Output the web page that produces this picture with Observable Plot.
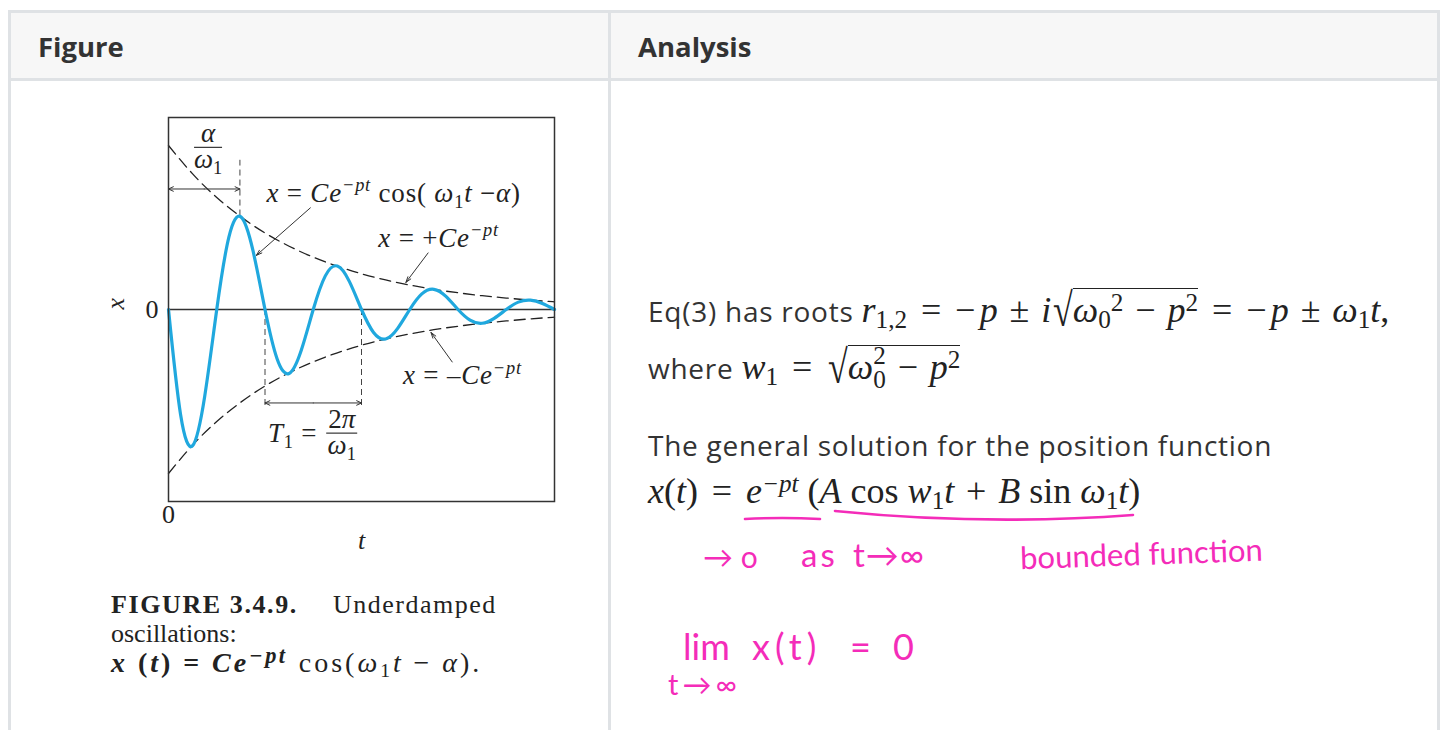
<!DOCTYPE html>
<html>
<head>
<meta charset="utf-8">
<script src="https://cdn.jsdelivr.net/npm/d3@7"></script>
<script src="https://cdn.jsdelivr.net/npm/@observablehq/plot@0.6"></script>
<style>
  html, body { margin: 0; padding: 0; background: #fff; }
  body { width: 1442px; height: 730px; position: relative; overflow: hidden; font-family: "Open Sans", sans-serif; color: #333; }
  .abs { position: absolute; }
  .bd { position: absolute; background: #dfe2e5; }
  .th { font-weight: 700; font-size: 27.5px; line-height: 1; white-space: nowrap; }
  .txt { font-size: 28px; letter-spacing: 0.75px; line-height: 1; white-space: nowrap; }
  .m { font-family: "Liberation Serif", serif; font-size: 36px; color: #222; line-height: 0; letter-spacing: 0; }
  .m i { font-style: italic; }
  .m sub, .m sup, .cap sub, .cap sup { font-size: 0.7em; line-height: 0; position: relative; vertical-align: baseline; }
  .m sub, .cap sub { top: 0.25em; }
  .m sup, .cap sup { top: -0.42em; }
  .rel { margin: 0 0.385em; }
  .bin { margin: 0 0.33em; }
  .neg { margin-right: 0.12em; }
  .stack { display: inline-flex; flex-direction: column; vertical-align: baseline; line-height: 0.95; font-size: 0.7em; position: relative; top: -0.6em; }
  .rad { display: inline-block; transform: scaleY(1.3); transform-origin: 50% 65%; margin-left: 0.05em; }
  .ov { border-top: 1.6px solid #222; padding-top: 1px; }
  .ink { position: absolute; font-family: Lato, sans-serif; font-weight: 400; color: #f42cb9; white-space: nowrap; line-height: 1; }
  .cap { position: absolute; font-family: "Liberation Serif", serif; font-size: 26px; line-height: 29px; color: #222; white-space: nowrap; }
  #chart { position: absolute; left: 100px; top: 100px; }
</style>
</head>
<body>

<!-- table frame -->
<div class="abs" style="left:11px;top:13px;width:1426px;height:65px;background:#f7f7f7"></div>
<div class="bd" style="left:8px;top:10px;width:1432px;height:3px"></div>
<div class="bd" style="left:8px;top:78px;width:1432px;height:3px"></div>
<div class="bd" style="left:8px;top:10px;width:3px;height:720px"></div>
<div class="bd" style="left:608px;top:10px;width:3px;height:720px"></div>
<div class="bd" style="left:1437px;top:10px;width:3px;height:720px"></div>
<div class="abs th" style="left:38px;top:33px">Figure</div>
<div class="abs th" style="left:638px;top:33px">Analysis</div>

<div id="chart"></div>

<div class="cap" style="left:111px;top:590px"><b style="letter-spacing:1.6px">FIGURE 3.4.9.</b></div>
<div class="cap" style="left:333px;top:590px;letter-spacing:1.5px">Underdamped</div>
<div class="cap" style="left:111px;top:619px">oscillations:</div>
<div class="cap" style="left:111px;top:648px;font-size:28px;letter-spacing:3px"><b><i>x</i> (<i>t</i>)<span style="margin:0 0.35em">=</span><i>Ce</i><sup style="font-size:0.8em;letter-spacing:2.5px"><i>−pt</i></sup></b><span style="margin-left:0.4em">cos(<i>ω</i><sub>1</sub><i>t</i><span style="margin:0 0.35em">−</span><i>α</i>).</span></div>

<!-- analysis column -->
<div class="abs txt" style="left:648px;top:297px">Eq(3) has roots <span class="m"><i>r</i><sub>1,2</sub><span class="rel">=</span><span class="neg">−</span><i>p</i><span class="bin">±</span><i>i</i><span class="rad">√</span><span class="ov"><i>ω</i><sub>0</sub><sup>2</sup><span class="bin">−</span><i>p</i><sup>2</sup></span><span class="rel">=</span><span class="neg">−</span><i>p</i><span class="bin">±</span><i>ω</i><sub>1</sub><i>t</i>,</span></div>
<div class="abs txt" style="left:648px;top:354px">where <span class="m"><i>w</i><sub>1</sub><span class="rel">=</span><span class="rad">√</span><span class="ov"><i>ω</i><span class="stack"><span>2</span><span>0</span></span><span class="bin">−</span><i>p</i><sup>2</sup></span></span></div>
<div class="abs txt" style="left:648px;top:431px">The general solution for the position function</div>
<div class="abs txt" style="left:648px;top:478px"><span class="m"><i>x</i>(<i>t</i>)<span class="rel">=</span><i>e</i><sup><i>−pt</i></sup> (<i>A</i> cos <i>w</i><sub>1</sub><i>t</i><span class="bin">+</span><i>B</i> sin <i>ω</i><sub>1</sub><i>t</i>)</span></div>

<svg class="abs" style="left:0;top:0" width="1442" height="730">
  <path d="M745,519 Q782,517 820,519" fill="none" stroke="#f42cb9" stroke-width="2.6" stroke-linecap="round"/>
  <path d="M835,511 Q985,526 1133,515" fill="none" stroke="#f42cb9" stroke-width="2.6" stroke-linecap="round"/>
</svg>
<div class="ink" style="left:703px;top:541px;font-size:30px">→ o</div>
<div class="ink" style="left:801px;top:538px;font-size:33px;letter-spacing:3px">as</div>
<div class="ink" style="left:853px;top:538px;font-size:33px;letter-spacing:1px">t→∞</div>
<div class="ink" style="left:1020px;top:538px;font-size:31px;transform:rotate(-2deg)">bounded function</div>
<div class="ink" style="left:683px;top:628px;font-size:36px">lim</div>
<div class="ink" style="left:752px;top:628px;font-size:36px;letter-spacing:5px">x(t)</div>
<div class="ink" style="left:850px;top:628px;font-size:36px">=</div>
<div class="ink" style="left:893px;top:628px;font-size:36px">0</div>
<div class="ink" style="left:668px;top:669px;font-size:29px;letter-spacing:4px">t→∞</div>

<script>
// Sampled displacement of the underdamped oscillator (t in units of T1, x in units of C)
const tSamples = [0, 0.125, 0.25, 0.375, 0.5, 0.625, 0.75, 0.875, 1, 1.125, 1.25, 1.375, 1.5, 1.625, 1.75, 1.875,
                  2, 2.125, 2.25, 2.375, 2.5, 2.625, 2.75, 2.875, 3, 3.125, 3.25, 3.375, 3.5, 3.625, 3.75, 3.875, 4];
const xSamples = [0, -0.64, -0.83, -0.53, 0, 0.44, 0.565, 0.36, 0, -0.30, -0.39, -0.25, 0, 0.205, 0.265, 0.17,
                  0, -0.14, -0.18, -0.115, 0, 0.095, 0.123, 0.08, 0, -0.065, -0.084, -0.054, 0, 0.045, 0.057, 0.037, 0];

// Envelope ±Ce^(-pt)
const tEnvelope = [0, 0.25, 0.5, 0.75, 1, 1.25, 1.5, 1.75, 2, 2.25, 2.5, 2.75, 3, 3.25, 3.5, 3.75, 4];
const envelopeAmp = [1, 0.827, 0.683, 0.565, 0.467, 0.386, 0.319, 0.264, 0.218, 0.180, 0.149, 0.123, 0.102, 0.084, 0.070, 0.057, 0.047];

// Guide lines: phase shift α/ω1 and one period T1
const phaseShift = 0.74;
const periodStart = 1;
const periodEnd = 2;

const oscillation = tSamples.map((t, i) => ({t, x: xSamples[i]}));
const envelope = tEnvelope.map((t, i) => ({t, a: envelopeAmp[i]}));

const guides = [
  {t: phaseShift, y1: 0.57, y2: 0.91},
  {t: periodStart, y1: 0, y2: -0.60},
  {t: periodEnd, y1: 0, y2: -0.60}
];
const spans = [
  {y: 0.735, t1: 0, t2: phaseShift},
  {y: -0.57, t1: periodStart, t2: periodEnd}
];
const pointers = [
  {x1: 1.47, y1: 0.62, x2: 0.91, y2: 0.33},
  {x1: 2.69, y1: 0.345, x2: 2.46, y2: 0.165},
  {x1: 2.94, y1: -0.32, x2: 2.72, y2: -0.14}
];

const dash = {stroke: "#222", strokeWidth: 1.3, strokeDasharray: "11,6"};
const thin = {stroke: "#333", strokeWidth: 1};

const plot = Plot.plot({
  width: 480,
  height: 470,
  marginLeft: 68,
  marginRight: 26,
  marginTop: 17,
  marginBottom: 69,
  x: {domain: [0, 4], axis: null},
  y: {domain: [-1.171, 1.171], axis: null},
  style: {background: "transparent", fontFamily: "'Liberation Serif', serif", fontSize: "26px", color: "#222", overflow: "visible"},
  marks: [
    Plot.ruleY([0], {stroke: "#333", strokeWidth: 1.4}),
    Plot.line(envelope, {x: "t", y: "a", curve: "natural", ...dash}),
    Plot.line(envelope, {x: "t", y: d => -d.a, curve: "natural", ...dash}),
    Plot.ruleX(guides, {x: "t", y1: "y1", y2: "y2", stroke: "#444", strokeWidth: 1, strokeDasharray: "6,4"}),
    Plot.arrow(spans, {x1: d => (d.t1 + d.t2) / 2, x2: "t1", y1: "y", y2: "y", headLength: 8, headAngle: 50, ...thin}),
    Plot.arrow(spans, {x1: d => (d.t1 + d.t2) / 2, x2: "t2", y1: "y", y2: "y", headLength: 8, headAngle: 50, ...thin}),
    Plot.arrow(pointers, {x1: "x1", y1: "y1", x2: "x2", y2: "y2", headLength: 9, headAngle: 35, ...thin}),
    Plot.line(oscillation, {x: "t", y: "x", curve: "natural", stroke: "#20a8de", strokeWidth: 3.2}),
    Plot.frame({stroke: "#333", strokeWidth: 1.5}),
    Plot.text([0], {x: () => 0, y: () => 0, text: () => "0", dx: -10, textAnchor: "end"}),
    Plot.text([0], {x: () => 0, frameAnchor: "bottom", dy: 21, text: () => "0"}),
    Plot.text(["t"], {x: () => 2, frameAnchor: "bottom", dy: 47, text: d => d, fontStyle: "italic"}),
    Plot.text(["x"], {frameAnchor: "left", y: () => 0, dx: -53, rotate: -90, text: d => d, fontStyle: "italic"})
  ]
});

// Formula labels set as SVG text with raised / lowered runs
const sx = plot.scale("x").apply, sy = plot.scale("y").apply;
const g = d3.select(plot).append("g").attr("fill", "#222").style("font-family", "'Liberation Serif', serif");

function mathText(x, y, parts, size, anchor = "start", spacing = 0.8) {
  const text = g.append("text").attr("x", x).attr("y", y).attr("font-size", size)
    .attr("text-anchor", anchor).style("white-space", "pre").style("letter-spacing", spacing + "px");
  let shift = 0;
  for (const p of parts) {
    const target = p.sup ? -0.4 * size : p.sub ? 0.22 * size : 0;
    const ts = text.append("tspan").text(p.s).attr("dy", target - shift);
    shift = target;
    if (p.sup || p.sub) ts.attr("font-size", size * 0.68);
    if (p.i) ts.attr("font-style", "italic");
  }
  return text;
}
function fraction(tx, yBar, num, den, size, barWidth) {
  const cx = sx(tx);
  mathText(cx, yBar - 5, num, size, "middle", 0);
  mathText(cx, yBar + size * 0.78, den, size, "middle", 0);
  g.append("line").attr("x1", cx - barWidth / 2).attr("x2", cx + barWidth / 2)
    .attr("y1", yBar).attr("y2", yBar).attr("stroke", "#222").attr("stroke-width", 1.1);
}

const fs = 27;
const omega1 = [{s: "ω", i: 1}, {s: "1", sub: 1}];
fraction(0.415, sy(0.986), [{s: "α", i: 1}], omega1, fs, 28);
mathText(sx(1.02), sy(0.655), [
  {s: "x", i: 1}, {s: " = "}, {s: "Ce", i: 1}, {s: "−pt", i: 1, sup: 1}, {s: " cos( "},
  {s: "ω", i: 1}, {s: "1", sub: 1}, {s: "t", i: 1}, {s: " −"}, {s: "α", i: 1}, {s: ")"}
], fs);
mathText(sx(2.18), sy(0.381), [
  {s: "x", i: 1}, {s: " = +"}, {s: "Ce", i: 1}, {s: "−pt", i: 1, sup: 1}
], fs);
mathText(sx(2.435), sy(-0.46), [
  {s: "x", i: 1}, {s: " = –"}, {s: "Ce", i: 1}, {s: "−pt", i: 1, sup: 1}
], fs);
mathText(sx(1.035), sy(-0.814), [
  {s: "T", i: 1}, {s: "1", sub: 1}, {s: " = "}
], fs);
fraction(1.8, sy(-0.757), [{s: "2"}, {s: "π", i: 1}], omega1, fs, 31);

document.getElementById("chart").appendChild(plot);
</script>
</body>
</html>
